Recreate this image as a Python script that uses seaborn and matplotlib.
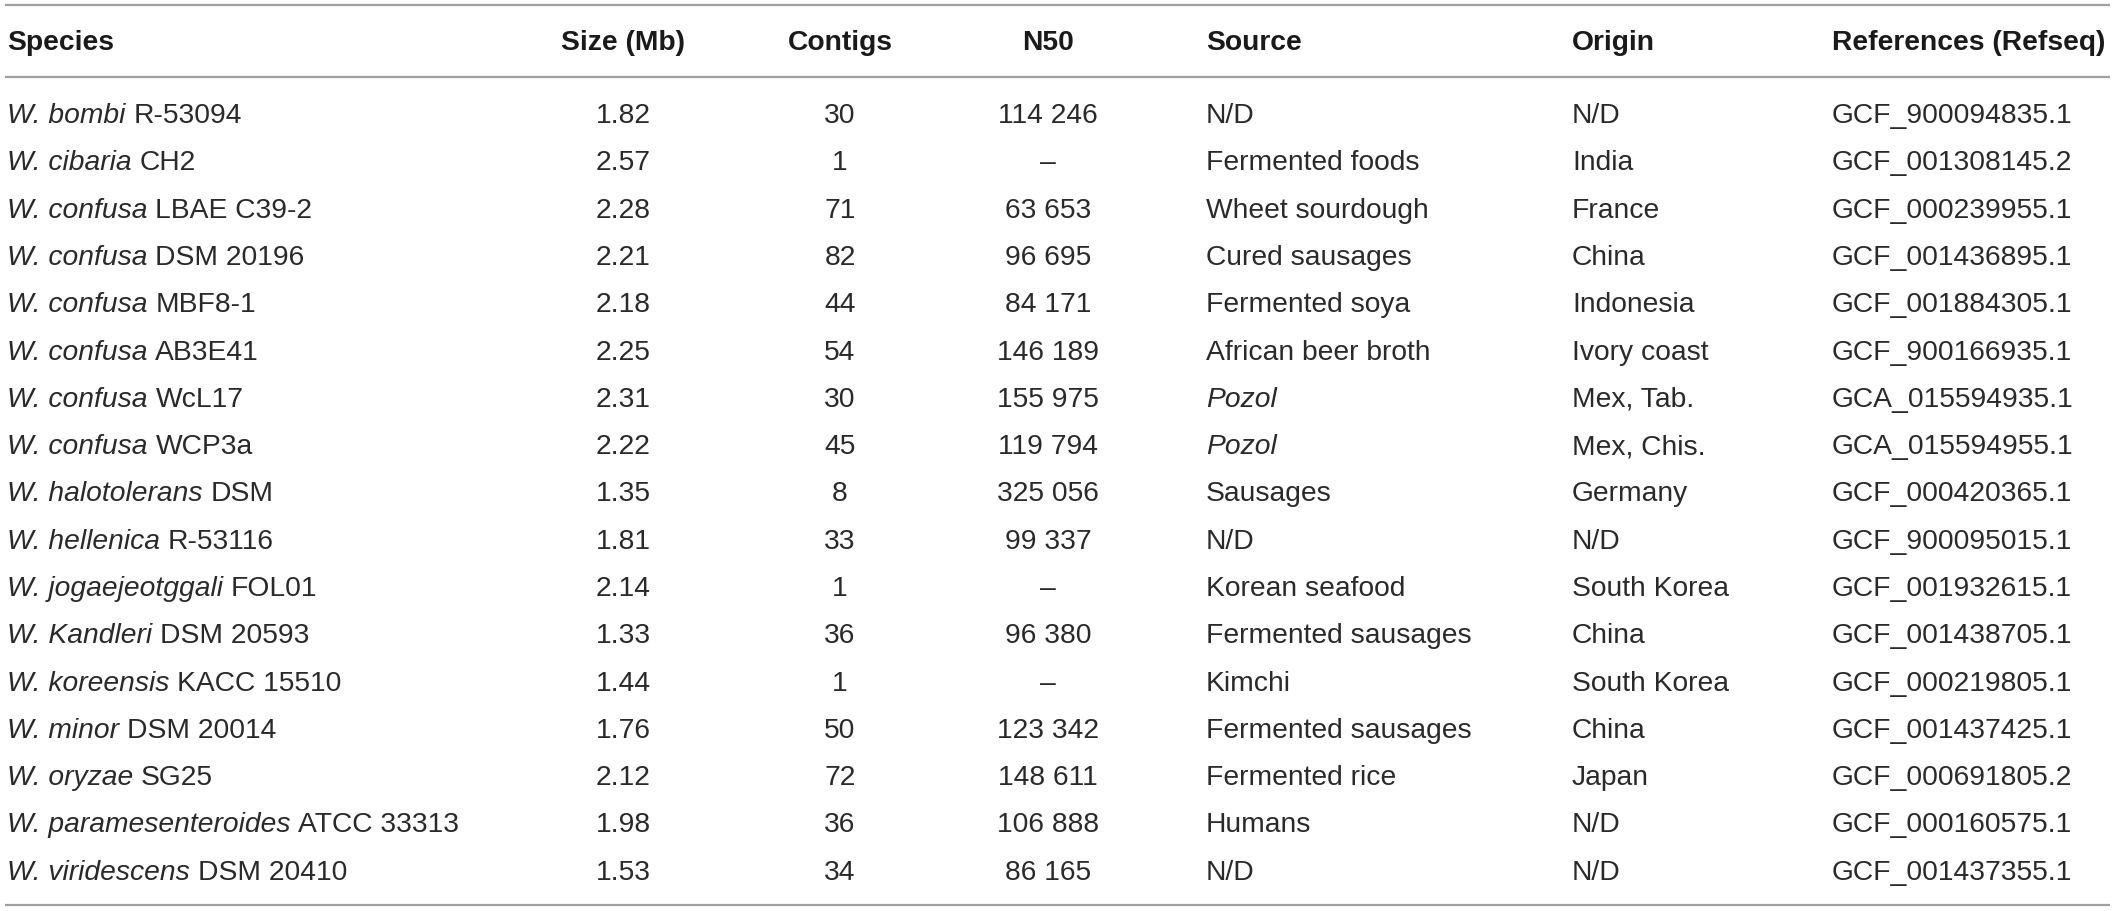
import matplotlib
matplotlib.use("Agg")
import matplotlib.pyplot as plt
import seaborn as sns

# 表格数据
species = ["W. bombi", "W. cibaria", "W. confusa", "W. confusa", "W. confusa",
           "W. confusa", "W. confusa", "W. confusa", "W. halotolerans",
           "W. hellenica", "W. jogaejeotggali", "W. Kandleri", "W. koreensis",
           "W. minor", "W. oryzae", "W. paramesenteroides", "W. viridescens"]
strains = ["R-53094", "CH2", "LBAE C39-2", "DSM 20196", "MBF8-1", "AB3E41",
           "WcL17", "WCP3a", "DSM", "R-53116", "FOL01", "DSM 20593",
           "KACC 15510", "DSM 20014", "SG25", "ATCC 33313", "DSM 20410"]
size_mb = ["1.82", "2.57", "2.28", "2.21", "2.18", "2.25", "2.31", "2.22", "1.35",
           "1.81", "2.14", "1.33", "1.44", "1.76", "2.12", "1.98", "1.53"]
contigs = ["30", "1", "71", "82", "44", "54", "30", "45", "8", "33", "1", "36",
           "1", "50", "72", "36", "34"]
n50 = ["114 246", "–", "63 653", "96 695", "84 171", "146 189", "155 975",
       "119 794", "325 056", "99 337", "–", "96 380", "–", "123 342", "148 611",
       "106 888", "86 165"]
source = ["N/D", "Fermented foods", "Wheet sourdough", "Cured sausages",
          "Fermented soya", "African beer broth", "Pozol", "Pozol", "Sausages",
          "N/D", "Korean seafood", "Fermented sausages", "Kimchi",
          "Fermented sausages", "Fermented rice", "Humans", "N/D"]
origin = ["N/D", "India", "France", "China", "Indonesia", "Ivory coast",
          "Mex, Tab.", "Mex, Chis.", "Germany", "N/D", "South Korea", "China",
          "South Korea", "China", "Japan", "N/D", "N/D"]
refseq = ["GCF_900094835.1", "GCF_001308145.2", "GCF_000239955.1",
          "GCF_001436895.1", "GCF_001884305.1", "GCF_900166935.1",
          "GCA_015594935.1", "GCA_015594955.1", "GCF_000420365.1",
          "GCF_900095015.1", "GCF_001932615.1", "GCF_001438705.1",
          "GCF_000219805.1", "GCF_001437425.1", "GCF_000691805.2",
          "GCF_000160575.1", "GCF_001437355.1"]
headers = ["Species", "Size (Mb)", "Contigs", "N50", "Source", "Origin",
           "References (Refseq)"]
italic_sources = {"Pozol"}

sns.set_theme(style="white")
plt.rcParams["font.family"] = ["Liberation Sans", "DejaVu Sans"]

W, H = 2117, 911
fig = plt.figure(figsize=(W / 100, H / 100), dpi=100)
ax = fig.add_axes([0, 0, 1, 1])
ax.set_xlim(0, W)
ax.set_ylim(H, 0)
ax.axis("off")

fs = 20.3
body_col = "#2a2a2a"
head_col = "#1a1a1a"

# 列位置 (x, 对齐方式)
cols = [(7, "left"), (623, "center"), (840, "center"), (1048, "center"),
        (1206, "left"), (1572, "left"), (1832, "left")]

# 横线
for y in (5, 77, 905):
    ax.plot([5, 2110], [y, y], color="#a0a0a0", lw=1.6, solid_capstyle="butt")

# 表头
for (x, ha), h in zip(cols, headers):
    ax.text(x, 50, h, ha=ha, va="baseline", fontsize=fs, fontweight="bold",
            color=head_col)

row0, step = 123, 47.3
for i in range(len(species)):
    y = row0 + step * i
    t = ax.text(cols[0][0], y, species[i], ha="left", va="baseline",
                fontsize=fs, style="italic", color=body_col)
    ax.annotate(strains[i], xy=(1, 0), xycoords=t, xytext=(fs * 0.28, 0),
                textcoords="offset points", ha="left", va="bottom",
                fontsize=fs, color=body_col)
    row_vals = [size_mb[i], contigs[i], n50[i], source[i], origin[i], refseq[i]]
    for (x, ha), v in zip(cols[1:], row_vals):
        st = "italic" if v in italic_sources else "normal"
        ax.text(x, y, v, ha=ha, va="baseline", fontsize=fs, style=st,
                color=body_col)

fig.savefig("out.png", dpi=100)
